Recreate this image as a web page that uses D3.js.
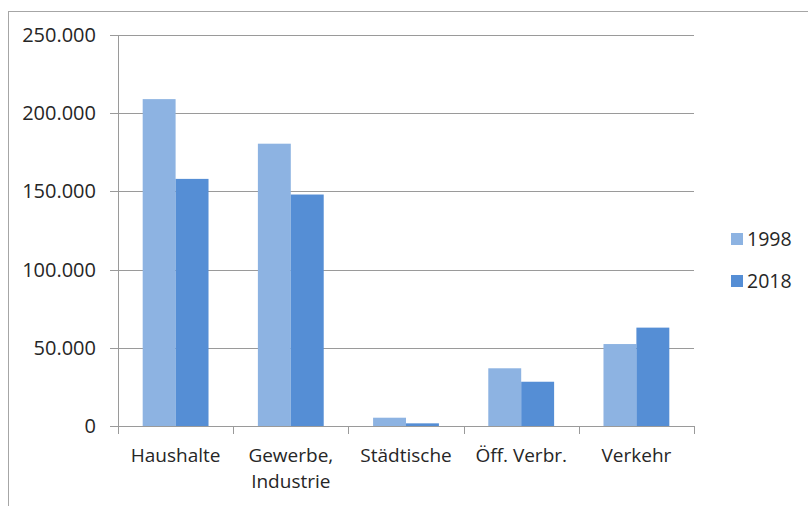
<!DOCTYPE html>
<html>
<head>
<meta charset="utf-8">
<script src="https://cdn.jsdelivr.net/npm/d3@7"></script>
<style>
  html, body { margin: 0; padding: 0; background: #fff; }
  svg { display: block; }
  text { font-family: "Open Sans", sans-serif; fill: #262626; }
</style>
</head>
<body>
<svg id="chart" width="808" height="506"></svg>
<script>
// Energy consumption by sector, 1998 vs 2018
const categories = ["Haushalte", "Gewerbe, Industrie", "Städtische", "Öff. Verbr.", "Verkehr"];
const seriesNames = ["1998", "2018"];
const values1998 = [209000, 180500, 5300, 36900, 52400];
const values2018 = [158000, 148000, 1700, 28300, 62900];
const yTicks = [0, 50000, 100000, 150000, 200000, 250000];

const colors = ["#8db3e2", "#558ed5"];
const series = [values1998, values2018];

const svg = d3.select("#chart");
const W = 808, H = 506;

// outer frame
svg.append("rect")
  .attr("x", 8.5).attr("y", 11.5)
  .attr("width", W + 10).attr("height", H + 10)
  .attr("fill", "none").attr("stroke", "#a6a6a6").attr("stroke-width", 1);

const plot = { left: 118, right: 694, top: 35, bottom: 426 };

const x0 = d3.scaleBand().domain(categories).range([plot.left, plot.right]).paddingInner(0).paddingOuter(0);
const x1 = d3.scaleBand().domain(seriesNames).range([0, x0.bandwidth()]).paddingInner(0).paddingOuter(0.75);
const y = d3.scaleLinear().domain([0, 250000]).range([plot.bottom, plot.top]);

const de = d3.formatLocale({ decimal: ",", thousands: ".", grouping: [3], currency: ["", " €"] });
const fmt = de.format(",.0f");

const gridColor = "#9a9a9a";

// horizontal gridlines with left tick marks
svg.append("g").selectAll("line").data(yTicks).join("line")
  .attr("x1", plot.left - 8).attr("x2", plot.right)
  .attr("y1", d => Math.round(y(d)) + 0.5).attr("y2", d => Math.round(y(d)) + 0.5)
  .attr("stroke", gridColor).attr("stroke-width", 1);

// y tick labels
svg.append("g").selectAll("text").data(yTicks).join("text")
  .attr("x", plot.left - 22).attr("y", d => y(d))
  .attr("dy", "0.35em").attr("text-anchor", "end")
  .style("font-size", "20px")
  .text(d => fmt(d));

// bars
const groups = svg.append("g").selectAll("g").data(categories).join("g")
  .attr("transform", d => `translate(${x0(d)},0)`);
groups.selectAll("rect")
  .data((c, i) => seriesNames.map((s, j) => ({ s, v: series[j][i], j })))
  .join("rect")
  .attr("x", d => x1(d.s))
  .attr("width", x1.bandwidth())
  .attr("y", d => y(d.v))
  .attr("height", d => y(0) - y(d.v))
  .attr("fill", d => colors[d.j]);

// axes lines
svg.append("line")
  .attr("x1", plot.left + 0.5).attr("x2", plot.left + 0.5)
  .attr("y1", plot.top).attr("y2", plot.bottom + 8)
  .attr("stroke", gridColor);
svg.append("line")
  .attr("x1", plot.left).attr("x2", plot.right)
  .attr("y1", plot.bottom + 0.5).attr("y2", plot.bottom + 0.5)
  .attr("stroke", gridColor);

// category boundary ticks
const bounds = categories.map(c => x0(c)).concat([plot.right]);
svg.append("g").selectAll("line").data(bounds).join("line")
  .attr("x1", d => Math.round(d) + 0.5).attr("x2", d => Math.round(d) + 0.5)
  .attr("y1", plot.bottom).attr("y2", plot.bottom + 8)
  .attr("stroke", gridColor);

// category labels (wrapped on the comma)
const labels = svg.append("g").selectAll("text").data(categories).join("text")
  .attr("text-anchor", "middle")
  .style("font-size", "19px")
  .attr("transform", d => `translate(${x0(d) + x0.bandwidth() / 2},${plot.bottom + 36})`);
labels.each(function (d) {
  const parts = d.includes(", ") ? [d.split(", ")[0] + ",", d.split(", ")[1]] : [d];
  d3.select(this).selectAll("tspan").data(parts).join("tspan")
    .attr("x", 0).attr("dy", (p, i) => i === 0 ? 0 : 26)
    .text(p => p);
});

// legend
const legend = svg.append("g").selectAll("g").data(seriesNames).join("g")
  .attr("transform", (d, i) => `translate(731,${239 + i * 42})`);
legend.append("rect")
  .attr("x", 0).attr("y", -6).attr("width", 12).attr("height", 12)
  .attr("fill", (d, i) => colors[i]);
legend.append("text")
  .attr("x", 16).attr("y", 0).attr("dy", "0.35em")
  .style("font-size", "19.5px")
  .text(d => d);
</script>
</body>
</html>
